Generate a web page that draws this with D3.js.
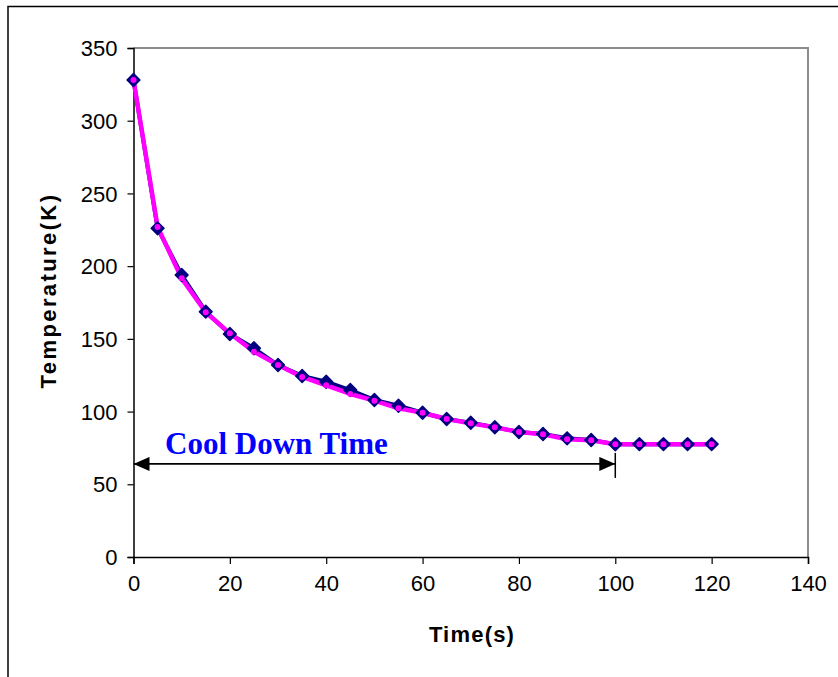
<!DOCTYPE html>
<html>
<head>
<meta charset="utf-8">
<script src="https://cdn.jsdelivr.net/npm/d3@7"></script>
<style>
  html, body { margin: 0; padding: 0; background: #fff; }
  svg { display: block; }
</style>
</head>
<body>
<svg id="chart" width="838" height="677"></svg>
<script>
// Cooling curve: measured temperatures and fitted curve, sampled every 5 s
const times = [0, 5, 10, 15, 20, 25, 30, 35, 40, 45, 50, 55, 60, 65, 70, 75, 80, 85, 90, 95, 100, 105, 110, 115, 120];
const measured = [328, 226, 193.9, 168.7, 153.3, 143.5, 132, 124.5, 120.5, 114.8, 108, 104, 99.2, 94.9, 92.3, 89.2, 86, 84.6, 81.6, 80.5, 77.5, 77.6, 77.6, 77.6, 77.6];
const fitted = [328, 227, 191.6, 168.3, 153.8, 141.2, 132, 123.8, 118.1, 112.1, 107.5, 102.2, 99.2, 94.9, 91.9, 89.2, 86, 84.4, 80.9, 80.3, 77.5, 77.6, 77.6, 77.6, 77.6];
const xTicks = [0, 20, 40, 60, 80, 100, 120, 140];
const yTicks = [0, 50, 100, 150, 200, 250, 300, 350];
// Cool-down span shown by the double arrow
const coolStart = 0, coolEnd = 100, coolLevel = 64;

const svg = d3.select("#chart");
const plot = { left: 133.5, right: 808, top: 48, bottom: 557 };

const x = d3.scaleLinear().domain([0, 140]).range([plot.left, plot.right]);
const y = d3.scaleLinear().domain([0, 350]).range([plot.bottom, plot.top]);

// outer chart frame
svg.append("rect")
  .attr("x", 8).attr("y", 6.5).attr("width", 900).attr("height", 700)
  .attr("fill", "none").attr("stroke", "#000").attr("stroke-width", 1.5);

// plot area frame (top and right edges in gray)
svg.append("path")
  .attr("d", `M${plot.left},${plot.top}H${plot.right}V${plot.bottom}`)
  .attr("fill", "none").attr("stroke", "#8c8c8c").attr("stroke-width", 2);

// axes
const yAxis = d3.axisLeft(y).tickValues(yTicks).tickSize(6).tickPadding(10).tickFormat(d3.format("d"));
const xAxis = d3.axisBottom(x).tickValues(xTicks).tickSize(7).tickPadding(10).tickFormat(d3.format("d"));

const gy = svg.append("g").attr("transform", `translate(${plot.left},0)`).call(yAxis);
const gx = svg.append("g").attr("transform", `translate(0,${plot.bottom})`).call(xAxis);
[gx, gy].forEach(g => {
  g.select(".domain").attr("stroke", "#000").attr("stroke-width", 1.5);
  g.selectAll(".tick line").attr("stroke", "#000").attr("stroke-width", 1.2);
  g.selectAll(".tick text")
    .attr("font-family", "Arial, 'Liberation Sans', sans-serif")
    .attr("font-size", 22).attr("fill", "#000");
});
gy.selectAll(".tick text").attr("dy", "0.35em");
gx.selectAll(".tick text").attr("dy", "0.75em");

// axis titles
svg.append("text")
  .attr("x", 472).attr("y", 642)
  .attr("text-anchor", "middle")
  .attr("font-family", "Arial, 'Liberation Sans', sans-serif")
  .attr("font-weight", "bold").attr("font-size", 22)
  .attr("letter-spacing", 1.2)
  .text("Time(s)");

svg.append("text")
  .attr("transform", `translate(56,${(plot.top + plot.bottom) / 2 - 12}) rotate(-90)`)
  .attr("text-anchor", "middle")
  .attr("font-family", "Arial, 'Liberation Sans', sans-serif")
  .attr("font-weight", "bold").attr("font-size", 22)
  .attr("letter-spacing", 2.4)
  .text("Temperature(K)");

// series lines
const lineGen = vals => d3.line().x((d, i) => x(times[i])).y(d => y(d))(vals);

svg.append("path").attr("d", lineGen(measured))
  .attr("fill", "none").attr("stroke", "#000080").attr("stroke-width", 4)
  .attr("stroke-linejoin", "round");
svg.append("path").attr("d", lineGen(fitted))
  .attr("fill", "none").attr("stroke", "#ff00ff").attr("stroke-width", 4.5)
  .attr("stroke-linejoin", "round");

// measured markers: navy diamonds
const diamond = d3.symbol().type(d3.symbolDiamond2).size(105);
svg.append("g").selectAll("path").data(measured).join("path")
  .attr("transform", (d, i) => `translate(${x(times[i])},${y(d)})`)
  .attr("d", diamond)
  .attr("fill", "#000080").attr("stroke", "#000080").attr("stroke-width", 1.5)
  .attr("stroke-linejoin", "round");

// fitted markers: small magenta dots
svg.append("g").selectAll("circle").data(fitted).join("circle")
  .attr("cx", (d, i) => x(times[i])).attr("cy", d => y(d))
  .attr("r", 3).attr("fill", "#ff00ff");

// cool-down annotation
const defs = svg.append("defs");
defs.append("marker")
  .attr("id", "arrowhead").attr("viewBox", "0 0 16 14")
  .attr("refX", 16).attr("refY", 7)
  .attr("markerWidth", 16).attr("markerHeight", 14)
  .attr("markerUnits", "userSpaceOnUse")
  .attr("orient", "auto-start-reverse")
  .append("path").attr("d", "M0,0L16,7L0,14Z").attr("fill", "#000");

svg.append("line")
  .attr("x1", x(coolStart)).attr("x2", x(coolEnd))
  .attr("y1", y(coolLevel)).attr("y2", y(coolLevel))
  .attr("stroke", "#000").attr("stroke-width", 1.8)
  .attr("marker-start", "url(#arrowhead)").attr("marker-end", "url(#arrowhead)");

svg.append("line")
  .attr("x1", x(coolEnd)).attr("x2", x(coolEnd))
  .attr("y1", y(coolLevel) - 11).attr("y2", y(coolLevel) + 14)
  .attr("stroke", "#000").attr("stroke-width", 1.5);

svg.append("text")
  .attr("x", 165).attr("y", 454)
  .attr("font-family", "'Times New Roman', 'Liberation Serif', serif")
  .attr("font-weight", "bold").attr("font-size", 31)
  .attr("fill", "#0000ff")
  .text("Cool Down Time");
</script>
</body>
</html>
